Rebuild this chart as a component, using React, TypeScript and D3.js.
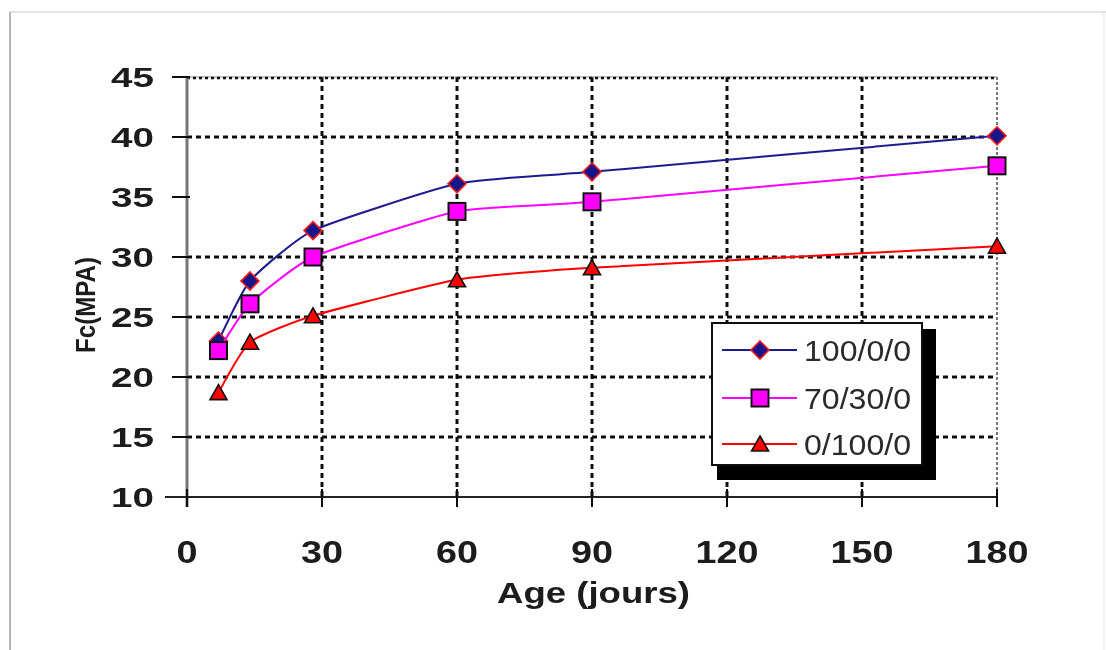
import React from "react";
import * as d3 from "d3";

// Compressive strength (MPa) against age in days for three binder mixes
const ages = [7, 14, 28, 60, 90, 180];
const mix100 = [23.0, 28.0, 32.2, 36.1, 37.1, 40.1];
const mix70 = [22.2, 26.1, 30.0, 33.8, 34.6, 37.6];
const mix0 = [18.7, 22.9, 25.1, 28.1, 29.1, 30.9];
const seriesNames = ["100/0/0", "70/30/0", "0/100/0"];

const xTicks = [0, 30, 60, 90, 120, 150, 180];
const yTicks = [10, 15, 20, 25, 30, 35, 40, 45];
const yGrid = [15, 20, 25, 30, 40];
const xGrid = [30, 60, 90, 120, 150];

const W = 1106;
const H = 650;
const left = 187;
const right = 997;
const top = 77;
const bottom = 497;

const x = d3.scaleLinear().domain([0, 180]).range([left, right]);
const y = d3.scaleLinear().domain([10, 45]).range([bottom, top]);

const line = d3
  .line<[number, number]>()
  .x((d) => x(d[0]))
  .y((d) => y(d[1]))
  .curve(d3.curveCardinal.tension(0.5));

const font = "Arial, 'Liberation Sans', sans-serif";

type Kind = "diamond" | "square" | "triangle";

function Marker({ kind, cx, cy }: { kind: Kind; cx: number; cy: number }) {
  if (kind === "diamond") {
    return (
      <path
        d={`M${cx},${cy - 9}L${cx + 9},${cy}L${cx},${cy + 9}L${cx - 9},${cy}Z`}
        fill="#14148a"
        stroke="#ff1a1a"
        strokeWidth={1.6}
      />
    );
  }
  if (kind === "square") {
    return (
      <rect
        x={cx - 8.5}
        y={cy - 8.5}
        width={17}
        height={17}
        fill="#ff00ff"
        stroke="#111"
        strokeWidth={2}
      />
    );
  }
  return (
    <path
      d={`M${cx},${cy - 8}L${cx + 8.5},${cy + 7}L${cx - 8.5},${cy + 7}Z`}
      fill="#ff0000"
      stroke="#111"
      strokeWidth={1.6}
    />
  );
}

const series: { values: number[]; color: string; kind: Kind }[] = [
  { values: mix100, color: "#1c1c8f", kind: "diamond" },
  { values: mix70, color: "#ff00ff", kind: "square" },
  { values: mix0, color: "#ff0000", kind: "triangle" },
];

export default function App() {
  const legendX = 712;
  const legendY = 323;
  const legendW = 210;
  const legendH = 142;
  const rowY = [350, 398, 444];

  return (
    <svg
      width={W}
      height={H}
      viewBox={`0 0 ${W} ${H}`}
      style={{ position: "absolute", left: 0, top: 0, background: "#fff" }}
    >
      <defs>
        <filter id="soft" x="-5%" y="-5%" width="110%" height="110%">
          <feGaussianBlur stdDeviation="0.6" />
        </filter>
      </defs>
      <rect width={W} height={H} fill="#fff" />
      {/* page frame */}
      <line x1={9} y1={12} x2={W} y2={12} stroke="#e4e4e4" strokeWidth={2} />
      <line x1={10} y1={12} x2={10} y2={H} stroke="#b8b8b8" strokeWidth={2} />
      <line x1={1104} y1={12} x2={1104} y2={H} stroke="#f0f0f0" strokeWidth={2} />

      <g filter="url(#soft)">
        {/* horizontal grid */}
        {yGrid.map((v) => (
          <line
            key={"hg" + v}
            x1={left}
            x2={right}
            y1={y(v)}
            y2={y(v)}
            stroke="#111"
            strokeWidth={3}
            strokeDasharray="5,4"
          />
        ))}
        {/* vertical grid */}
        {xGrid.map((v) => (
          <line
            key={"vg" + v}
            x1={x(v)}
            x2={x(v)}
            y1={top}
            y2={bottom}
            stroke="#111"
            strokeWidth={3}
            strokeDasharray="5,4"
          />
        ))}
        {/* plot frame: top and right */}
        <line x1={left} x2={right} y1={top} y2={top} stroke="#888" strokeWidth={1} />
        <line
          x1={left}
          x2={right}
          y1={top + 1}
          y2={top + 1}
          stroke="#111"
          strokeWidth={2.5}
          strokeDasharray="3,3"
        />
        <line
          x1={right}
          x2={right}
          y1={top}
          y2={bottom}
          stroke="#777"
          strokeWidth={2}
          strokeDasharray="3,2"
        />

        {/* y axis */}
        <line x1={left} x2={left} y1={top} y2={507} stroke="#777" strokeWidth={3} />
        {yTicks.map((v) => (
          <line
            key={"yt" + v}
            x1={172}
            x2={190}
            y1={y(v)}
            y2={y(v)}
            stroke="#111"
            strokeWidth={2}
          />
        ))}
        {/* x axis */}
        <line x1={165} x2={right} y1={bottom} y2={bottom} stroke="#222" strokeWidth={2} />
        {xTicks.map((v) => (
          <line
            key={"xt" + v}
            x1={x(v)}
            x2={x(v)}
            y1={489}
            y2={507}
            stroke="#111"
            strokeWidth={2}
          />
        ))}

        {/* series */}
        {series.map((s, i) => (
          <g key={"s" + i}>
            <path
              d={line(ages.map((a, j) => [a, s.values[j]] as [number, number])) || ""}
              fill="none"
              stroke={s.color}
              strokeWidth={2}
            />
            {ages.map((a, j) => (
              <Marker key={j} kind={s.kind} cx={x(a)} cy={y(s.values[j])} />
            ))}
          </g>
        ))}

        {/* legend */}
        <rect x={legendX + 5} y={legendY + 6} width={legendW + 9} height={legendH + 9} fill="#000" />
        <rect
          x={legendX}
          y={legendY}
          width={legendW}
          height={legendH}
          fill="#fff"
          stroke="#111"
          strokeWidth={2}
        />
        {series.map((s, i) => (
          <g key={"lg" + i}>
            <line x1={722} x2={797} y1={rowY[i]} y2={rowY[i]} stroke={s.color} strokeWidth={2} />
            <Marker kind={s.kind} cx={760} cy={rowY[i]} />
            <text
              x={804}
              y={rowY[i] + 10.5}
              fontFamily={font}
              fontSize={29}
              fill="#2a2a2a"
              textLength={107}
              lengthAdjust="spacingAndGlyphs"
            >
              {seriesNames[i]}
            </text>
          </g>
        ))}

        {/* tick labels */}
        {yTicks.map((v) => {
          const t = String(v);
          const w = t.length * 21.5;
          return (
            <text
              key={"yl" + v}
              x={154 - w}
              y={y(v) + 10}
              fontFamily={font}
              fontWeight="bold"
              fontSize={28}
              fill="#1a1a1a"
              textLength={w}
              lengthAdjust="spacingAndGlyphs"
            >
              {t}
            </text>
          );
        })}
        {xTicks.map((v) => {
          const t = String(v);
          const w = t.length * 21;
          return (
            <text
              key={"xl" + v}
              x={x(v) - w / 2}
              y={563}
              fontFamily={font}
              fontWeight="bold"
              fontSize={31}
              fill="#1a1a1a"
              textLength={w}
              lengthAdjust="spacingAndGlyphs"
            >
              {t}
            </text>
          );
        })}

        {/* axis titles */}
        <text
          x={497}
          y={603}
          fontFamily={font}
          fontWeight="bold"
          fontSize={30}
          fill="#1a1a1a"
          textLength={193}
          lengthAdjust="spacingAndGlyphs"
        >
          Age (jours)
        </text>
        <text
          transform="translate(95,353) rotate(-90)"
          x={0}
          y={0}
          fontFamily={font}
          fontWeight="bold"
          fontSize={27}
          fill="#1a1a1a"
          textLength={96}
          lengthAdjust="spacingAndGlyphs"
        >
          Fc(MPA)
        </text>
      </g>
    </svg>
  );
}
